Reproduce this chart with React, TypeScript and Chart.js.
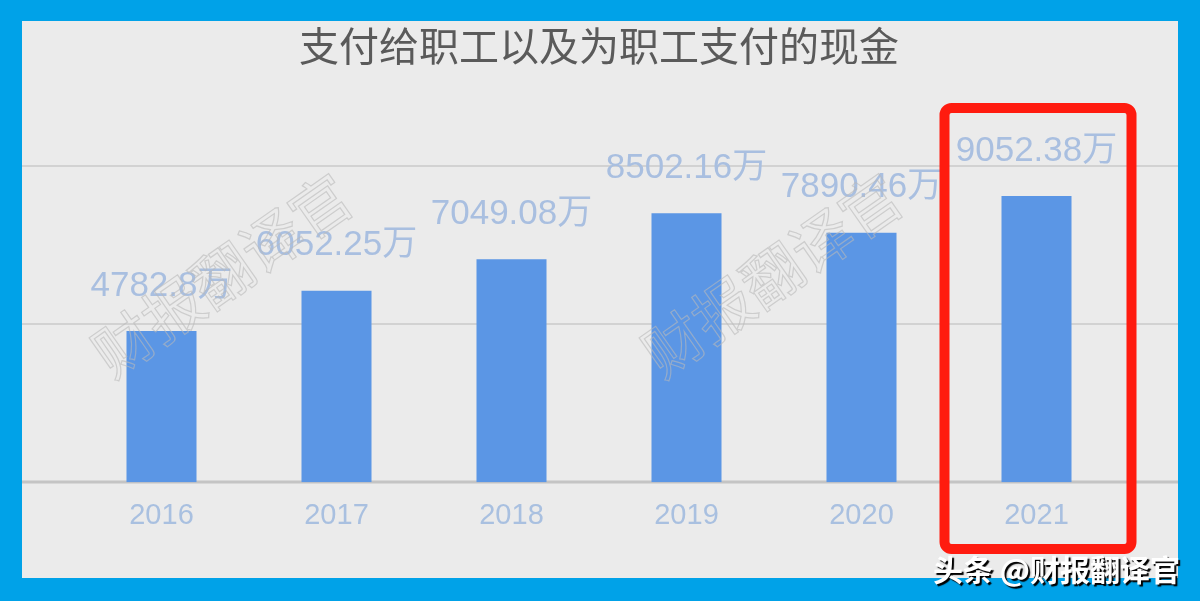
import { useEffect, useRef } from "react";
import { Chart, registerables } from "chart.js";

Chart.register(...registerables);

const years = ["2016", "2017", "2018", "2019", "2020", "2021"];
const cashPaid = [4782.8, 6052.25, 7049.08, 8502.16, 7890.46, 9052.38];
const valueLabels = ["4782.8万", "6052.25万", "7049.08万", "8502.16万", "7890.46万", "9052.38万"];
const titleText = "支付给职工以及为职工支付的现金";
const watermark = "财报翻译官";

// grid lines run edge to edge of the grey panel, not just the plot area
const fullGrid = {
  id: "fullGrid",
  beforeDatasetsDraw(chart: Chart) {
    const { ctx, width } = chart;
    const y = chart.scales.y;
    ctx.save();
    y.ticks.forEach(t => {
      const py = Math.round(y.getPixelForValue(t.value));
      ctx.strokeStyle = t.value === 0 ? "#c4c4c4" : "#d2d2d2";
      ctx.lineWidth = t.value === 0 ? 3 : 2;
      ctx.beginPath();
      ctx.moveTo(0, py);
      ctx.lineTo(width, py);
      ctx.stroke();
    });
    ctx.restore();
  },
};

const barLabels = {
  id: "barLabels",
  afterDatasetsDraw(chart: Chart) {
    const { ctx } = chart;
    const meta = chart.getDatasetMeta(0);
    ctx.save();
    ctx.font = "35px 'Liberation Sans', 'Noto Sans CJK SC'";
    ctx.fillStyle = "#a9bfe0";
    ctx.textAlign = "center";
    ctx.textBaseline = "middle";
    meta.data.forEach((bar, i) => {
      ctx.fillText(valueLabels[i], bar.x, bar.y - 45);
    });
    ctx.restore();
  },
};

const overlay = {
  id: "overlay",
  afterDraw(chart: Chart) {
    const { ctx } = chart;
    ctx.save();
    // faint outlined watermark
    ctx.font = "60px 'Noto Sans CJK SC'";
    ctx.strokeStyle = "rgba(185,185,185,0.6)";
    ctx.lineWidth = 1.2;
    ctx.textAlign = "center";
    ctx.textBaseline = "middle";
    [200, 750, 1300].forEach(cx => {
      ctx.save();
      ctx.translate(cx, 254);
      ctx.rotate(-35 * Math.PI / 180);
      ctx.strokeText(watermark, 0, 0);
      ctx.restore();
    });
    // red highlight box round the last year
    const x = chart.scales.x;
    const cx = x.getPixelForValue(years.length - 1);
    ctx.strokeStyle = "#ff1b0f";
    ctx.lineWidth = 10;
    ctx.beginPath();
    ctx.roundRect(cx - 92, 87, 187, 441, 7);
    ctx.stroke();
    ctx.restore();
  },
};

export default function App() {
  const canvasRef = useRef<HTMLCanvasElement>(null);

  useEffect(() => {
    if (!canvasRef.current) return;
    const chart = new Chart(canvasRef.current, {
      type: "bar",
      data: {
        labels: years,
        datasets: [{
          data: cashPaid,
          backgroundColor: "#5b96e5",
          borderWidth: 0,
          barPercentage: 0.4,
          categoryPercentage: 1,
        }],
      },
      options: {
        animation: false,
        responsive: false,
        maintainAspectRatio: false,
        layout: { padding: { left: 52, right: 54, top: 0, bottom: 29 } },
        plugins: {
          legend: { display: false },
          tooltip: { enabled: false },
          title: {
            display: true,
            text: titleText,
            color: "#5a5a5a",
            font: { family: "'Noto Sans CJK SC'", size: 40, weight: "normal" },
            padding: { top: 1, bottom: 96 },
          },
        },
        scales: {
          x: {
            grid: { display: false, drawTicks: false },
            border: { display: false },
            ticks: {
              color: "#a9c0e0",
              font: { family: "'Liberation Sans'", size: 29 },
              padding: 16,
            },
          },
          y: {
            display: false,
            min: 0,
            max: 10000,
            ticks: { stepSize: 5000 },
          },
        },
      },
      plugins: [fullGrid, barLabels, overlay],
    });
    return () => { chart.destroy(); };
  }, []);

  return (
    <div style={{ position: "absolute", left: 0, top: 0, width: 1200, height: 601, background: "#00a2e8", overflow: "hidden" }}>
      <div style={{ position: "absolute", left: 22, top: 21, width: 1156, height: 557, background: "#ebebeb" }}>
        <canvas ref={canvasRef} width={1156} height={557} style={{ display: "block" }} />
      </div>
      <div style={{
        position: "absolute", right: 20, top: 546, color: "#fff", fontSize: 30, fontWeight: "bold",
        fontFamily: "'Noto Sans CJK SC'", textShadow: "2px 2px 1px #000", whiteSpace: "nowrap",
      }}>头条 @财报翻译官</div>
    </div>
  );
}
